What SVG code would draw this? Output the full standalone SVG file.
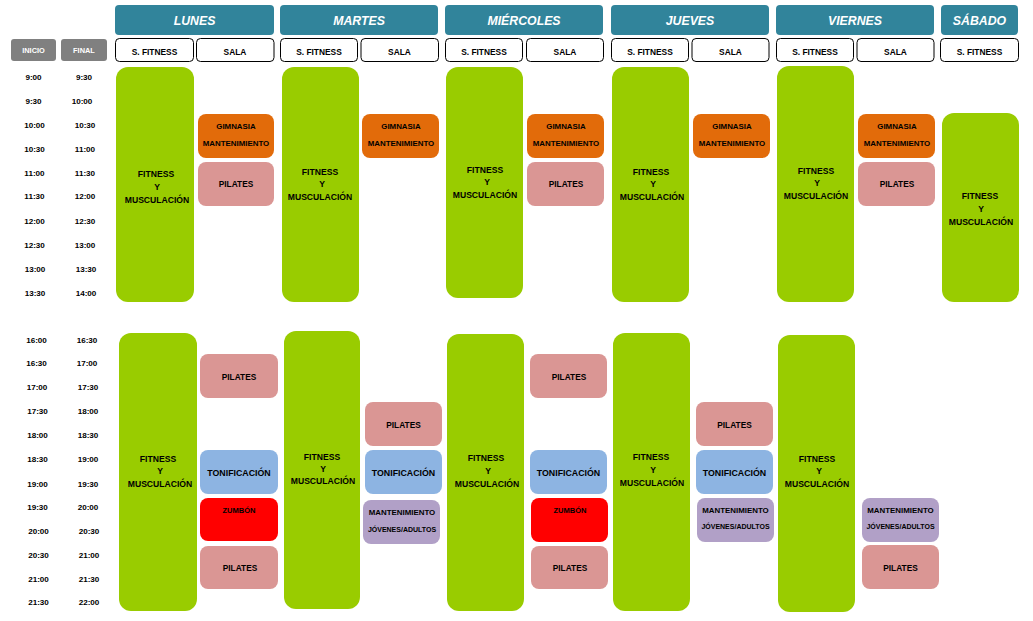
<svg xmlns="http://www.w3.org/2000/svg" width="1033" height="621" viewBox="0 0 1033 621">
<style>
text{font-family:"Liberation Sans",Arial,sans-serif;font-weight:bold;text-anchor:middle;fill:#000}
.day{fill:#31849B}
.dayt{fill:#fff;font-style:italic;font-size:12.3px}
.sub{fill:#fff;stroke:#000;stroke-width:1}
.subt{font-size:8.4px}
.hdr{fill:#808080}
.hdrt{fill:#fff;font-size:7.4px}
.tm{font-size:8.1px}
.g{fill:#99CC00}
.o{fill:#E26B0A}
.p{fill:#DA9694}
.t{fill:#8DB4E2}
.z{fill:#FF0000}
.m{fill:#B1A0C7}
.gt{font-size:8.6px}
.bt{font-size:7.9px}
.pt{font-size:8.3px}
.tt{font-size:8.8px}
.jt{font-size:7px}
.zt{font-size:7.5px}
</style>
<rect width="1033" height="621" fill="#fff"/>

<g id="days">
<g id="day-lunes"><rect class="day" x="115" y="5" width="159" height="30" rx="4"/><text class="dayt" x="194.5" y="24.5">LUNES</text></g>
<g id="day-martes"><rect class="day" x="280" y="5" width="158" height="30" rx="4"/><text class="dayt" x="359" y="24.5">MARTES</text></g>
<g id="day-miercoles"><rect class="day" x="445" y="5" width="158" height="30" rx="4"/><text class="dayt" x="524" y="24.5">MIÉRCOLES</text></g>
<g id="day-jueves"><rect class="day" x="611" y="5" width="158" height="30" rx="4"/><text class="dayt" x="690" y="24.5">JUEVES</text></g>
<g id="day-viernes"><rect class="day" x="776" y="5" width="158" height="30" rx="4"/><text class="dayt" x="855" y="24.5">VIERNES</text></g>
<g id="day-sabado"><rect class="day" x="941" y="5" width="77" height="30" rx="4"/><text class="dayt" x="979.5" y="24.5">SÁBADO</text></g>
</g>

<g id="subheaders">
<g id="sub-lunes-fit"><rect class="sub" x="115.5" y="38.5" width="78" height="23" rx="4"/><text class="subt" x="154.5" y="55">S. FITNESS</text></g>
<g id="sub-lunes-sala"><rect class="sub" x="196.5" y="38.5" width="77.5" height="23" rx="4"/><text class="subt" x="235" y="54.5">SALA</text></g>
<g id="sub-martes-fit"><rect class="sub" x="280.5" y="38.5" width="77" height="23" rx="4"/><text class="subt" x="319" y="55">S. FITNESS</text></g>
<g id="sub-martes-sala"><rect class="sub" x="361" y="38.5" width="77.5" height="23" rx="4"/><text class="subt" x="399.5" y="55">SALA</text></g>
<g id="sub-miercoles-fit"><rect class="sub" x="445.5" y="38.5" width="77" height="23" rx="4"/><text class="subt" x="484" y="54.5">S. FITNESS</text></g>
<g id="sub-miercoles-sala"><rect class="sub" x="526.5" y="38.5" width="77" height="23" rx="4"/><text class="subt" x="565" y="54.5">SALA</text></g>
<g id="sub-jueves-fit"><rect class="sub" x="611.5" y="38.5" width="77" height="23" rx="4"/><text class="subt" x="650" y="54.5">S. FITNESS</text></g>
<g id="sub-jueves-sala"><rect class="sub" x="692" y="38.5" width="77" height="23" rx="4"/><text class="subt" x="730.5" y="54.5">SALA</text></g>
<g id="sub-viernes-fit"><rect class="sub" x="776.5" y="38.5" width="77" height="23" rx="4"/><text class="subt" x="815" y="54.5">S. FITNESS</text></g>
<g id="sub-viernes-sala"><rect class="sub" x="857" y="38.5" width="77" height="23" rx="4"/><text class="subt" x="895.5" y="54.5">SALA</text></g>
<g id="sub-sabado-fit"><rect class="sub" x="940.5" y="38.5" width="78" height="23" rx="4"/><text class="subt" x="979.5" y="54.5">S. FITNESS</text></g>
</g>

<g id="time-headers">
<g id="hdr-inicio"><rect class="hdr" x="11" y="39" width="45" height="22" rx="3"/><text class="hdrt" x="33.5" y="52.5">INICIO</text></g>
<g id="hdr-final"><rect class="hdr" x="61" y="39" width="46" height="22" rx="3"/><text class="hdrt" x="84" y="52.5">FINAL</text></g>
</g>

<g id="times">
<text class="tm" x="33.5" y="80">9:00</text><text class="tm" x="84" y="80">9:30</text>
<text class="tm" x="33.5" y="104">9:30</text><text class="tm" x="82" y="104">10:00</text>
<text class="tm" x="34.5" y="128">10:00</text><text class="tm" x="85" y="128">10:30</text>
<text class="tm" x="34.5" y="152">10:30</text><text class="tm" x="85" y="152">11:00</text>
<text class="tm" x="34.5" y="176">11:00</text><text class="tm" x="85" y="176">11:30</text>
<text class="tm" x="34.5" y="199">11:30</text><text class="tm" x="85" y="199">12:00</text>
<text class="tm" x="34.5" y="224">12:00</text><text class="tm" x="85" y="224">12:30</text>
<text class="tm" x="34.5" y="248">12:30</text><text class="tm" x="85" y="248">13:00</text>
<text class="tm" x="35" y="272">13:00</text><text class="tm" x="86" y="272">13:30</text>
<text class="tm" x="35" y="296">13:30</text><text class="tm" x="86" y="296">14:00</text>
<text class="tm" x="36.5" y="343">16:00</text><text class="tm" x="87" y="343">16:30</text>
<text class="tm" x="36.5" y="366">16:30</text><text class="tm" x="87" y="366">17:00</text>
<text class="tm" x="37" y="390">17:00</text><text class="tm" x="88" y="390">17:30</text>
<text class="tm" x="37.5" y="414">17:30</text><text class="tm" x="88" y="414">18:00</text>
<text class="tm" x="37.5" y="438">18:00</text><text class="tm" x="88" y="438">18:30</text>
<text class="tm" x="37.5" y="462">18:30</text><text class="tm" x="88" y="462">19:00</text>
<text class="tm" x="37.5" y="487">19:00</text><text class="tm" x="88" y="487">19:30</text>
<text class="tm" x="37.5" y="510">19:30</text><text class="tm" x="88" y="510">20:00</text>
<text class="tm" x="38.5" y="534">20:00</text><text class="tm" x="89" y="534">20:30</text>
<text class="tm" x="38.5" y="558">20:30</text><text class="tm" x="89" y="558">21:00</text>
<text class="tm" x="38.5" y="582">21:00</text><text class="tm" x="89" y="582">21:30</text>
<text class="tm" x="38.5" y="605">21:30</text><text class="tm" x="89" y="605">22:00</text>
</g>

<g id="morning">
<g id="lun-am-fit"><rect class="g" x="116" y="67" width="78" height="235" rx="12"/><text class="gt" x="156" y="177">FITNESS</text><text class="gt" x="157" y="190">Y</text><text class="gt" x="157" y="203">MUSCULACIÓN</text></g>
<g id="lun-am-gim"><rect class="o" x="198" y="114" width="76" height="44" rx="8"/><text class="bt" x="236" y="129">GIMNASIA</text><text class="bt" x="236" y="146">MANTENIMIENTO</text></g>
<g id="lun-am-pil"><rect class="p" x="198" y="162" width="76" height="44" rx="8"/><text class="pt" x="236" y="187">PILATES</text></g>

<g id="mar-am-fit"><rect class="g" x="282" y="67" width="77" height="235" rx="12"/><text class="gt" x="320" y="175">FITNESS</text><text class="gt" x="322" y="187">Y</text><text class="gt" x="320" y="200">MUSCULACIÓN</text></g>
<g id="mar-am-gim"><rect class="o" x="362" y="114" width="77" height="44" rx="8"/><text class="bt" x="401" y="129">GIMNASIA</text><text class="bt" x="401" y="146">MANTENIMIENTO</text></g>

<g id="mie-am-fit"><rect class="g" x="446" y="67" width="77" height="231" rx="12"/><text class="gt" x="485" y="173">FITNESS</text><text class="gt" x="487" y="185">Y</text><text class="gt" x="485" y="198">MUSCULACIÓN</text></g>
<g id="mie-am-gim"><rect class="o" x="527" y="114" width="77" height="44" rx="8"/><text class="bt" x="566" y="129">GIMNASIA</text><text class="bt" x="566" y="146">MANTENIMIENTO</text></g>
<g id="mie-am-pil"><rect class="p" x="527" y="162" width="77" height="44" rx="8"/><text class="pt" x="566" y="187">PILATES</text></g>

<g id="jue-am-fit"><rect class="g" x="612" y="67" width="77" height="235" rx="12"/><text class="gt" x="651" y="175">FITNESS</text><text class="gt" x="653" y="187">Y</text><text class="gt" x="652" y="200">MUSCULACIÓN</text></g>
<g id="jue-am-gim"><rect class="o" x="693" y="114" width="77" height="44" rx="8"/><text class="bt" x="732" y="129">GIMNASIA</text><text class="bt" x="732" y="146">MANTENIMIENTO</text></g>

<g id="vie-am-fit"><rect class="g" x="777" y="66" width="77" height="236" rx="12"/><text class="gt" x="816" y="174">FITNESS</text><text class="gt" x="817" y="186">Y</text><text class="gt" x="816" y="199">MUSCULACIÓN</text></g>
<g id="vie-am-gim"><rect class="o" x="858" y="114" width="77" height="44" rx="8"/><text class="bt" x="897" y="129">GIMNASIA</text><text class="bt" x="897" y="146">MANTENIMIENTO</text></g>
<g id="vie-am-pil"><rect class="p" x="858" y="162" width="77" height="44" rx="8"/><text class="pt" x="897" y="187">PILATES</text></g>

<g id="sab-am-fit"><rect class="g" x="942" y="113" width="77" height="189" rx="12"/><text class="gt" x="980" y="199">FITNESS</text><text class="gt" x="981" y="212">Y</text><text class="gt" x="981" y="225">MUSCULACIÓN</text></g>
</g>

<g id="afternoon">
<g id="lun-pm-fit"><rect class="g" x="119" y="333" width="78" height="278" rx="12"/><text class="gt" x="158" y="462">FITNESS</text><text class="gt" x="160" y="474">Y</text><text class="gt" x="160" y="487">MUSCULACIÓN</text></g>
<g id="lun-pm-pil1"><rect class="p" x="200" y="354" width="78" height="44" rx="8"/><text class="pt" x="239" y="380">PILATES</text></g>
<g id="lun-pm-ton"><rect class="t" x="200" y="450" width="78" height="44" rx="8"/><text class="tt" x="239" y="476">TONIFICACIÓN</text></g>
<g id="lun-pm-zum"><rect class="z" x="200" y="498" width="78" height="43" rx="8"/><text class="zt" x="239" y="513">ZUMBÓN</text></g>
<g id="lun-pm-pil2"><rect class="p" x="200" y="546" width="78" height="43" rx="8"/><text class="pt" x="240" y="571">PILATES</text></g>

<g id="mar-pm-fit"><rect class="g" x="284" y="331" width="76" height="278" rx="12"/><text class="gt" x="322" y="460">FITNESS</text><text class="gt" x="323" y="472">Y</text><text class="gt" x="323" y="484">MUSCULACIÓN</text></g>
<g id="mar-pm-pil"><rect class="p" x="365" y="402" width="77" height="44" rx="8"/><text class="pt" x="403.5" y="428">PILATES</text></g>
<g id="mar-pm-ton"><rect class="t" x="365" y="450" width="77" height="44" rx="8"/><text class="tt" x="403.5" y="476">TONIFICACIÓN</text></g>
<g id="mar-pm-man"><rect class="m" x="363" y="500" width="77" height="44" rx="8"/><text class="bt" x="402" y="515">MANTENIMIENTO</text><text class="jt" x="402" y="531.5">JÓVENES/ADULTOS</text></g>

<g id="mie-pm-fit"><rect class="g" x="447" y="334" width="77" height="277" rx="12"/><text class="gt" x="486" y="461">FITNESS</text><text class="gt" x="488" y="474">Y</text><text class="gt" x="487" y="487">MUSCULACIÓN</text></g>
<g id="mie-pm-pil1"><rect class="p" x="530" y="354" width="77" height="44" rx="8"/><text class="pt" x="569" y="380">PILATES</text></g>
<g id="mie-pm-ton"><rect class="t" x="530" y="450" width="77" height="44" rx="8"/><text class="tt" x="568.5" y="476">TONIFICACIÓN</text></g>
<g id="mie-pm-zum"><rect class="z" x="531" y="498" width="77" height="44" rx="8"/><text class="zt" x="570" y="513">ZUMBÓN</text></g>
<g id="mie-pm-pil2"><rect class="p" x="531" y="546" width="77" height="43" rx="8"/><text class="pt" x="570" y="571">PILATES</text></g>

<g id="jue-pm-fit"><rect class="g" x="613" y="333" width="77" height="278" rx="12"/><text class="gt" x="651" y="460">FITNESS</text><text class="gt" x="653" y="473">Y</text><text class="gt" x="652" y="486">MUSCULACIÓN</text></g>
<g id="jue-pm-pil"><rect class="p" x="696" y="402" width="77" height="44" rx="8"/><text class="pt" x="734.5" y="428">PILATES</text></g>
<g id="jue-pm-ton"><rect class="t" x="696" y="450" width="77" height="44" rx="8"/><text class="tt" x="734.5" y="476">TONIFICACIÓN</text></g>
<g id="jue-pm-man"><rect class="m" x="697" y="498" width="77" height="44" rx="8"/><text class="bt" x="735.5" y="513">MANTENIMIENTO</text><text class="jt" x="735.5" y="529">JÓVENES/ADULTOS</text></g>

<g id="vie-pm-fit"><rect class="g" x="778" y="335" width="77" height="277" rx="12"/><text class="gt" x="817" y="462">FITNESS</text><text class="gt" x="819" y="474">Y</text><text class="gt" x="817" y="487">MUSCULACIÓN</text></g>
<g id="vie-pm-man"><rect class="m" x="862" y="498" width="77" height="44" rx="8"/><text class="bt" x="900.5" y="513">MANTENIMIENTO</text><text class="jt" x="900.5" y="529">JÓVENES/ADULTOS</text></g>
<g id="vie-pm-pil"><rect class="p" x="862" y="545" width="77" height="44" rx="8"/><text class="pt" x="900.5" y="571">PILATES</text></g>
</g>
</svg>
